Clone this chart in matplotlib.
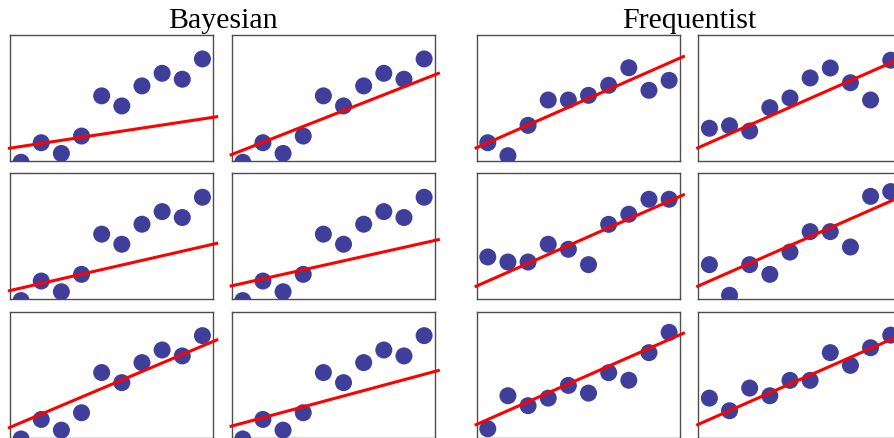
import numpy as np
import matplotlib
matplotlib.use("Agg")
import matplotlib.pyplot as plt

plt.rcParams["font.family"] = ["Liberation Serif", "DejaVu Serif"]

# x positions shared by every panel
x_vals = np.arange(1, 11)

# Bayesian: one fixed data set, six posterior lines (intercept, slope)
bayes_y = [-0.1, 1.45, 0.6, 1.98, 5.17, 4.37, 5.96, 6.96, 6.49, 8.1]
bayes_intercepts = [0.91, 0.23, 0.53, 0.91, 0.52, 0.73]
bayes_slopes = [0.243, 0.628, 0.365, 0.357, 0.676, 0.43]

# Frequentist: one fixed line, six resampled data sets
freq_intercept = 0.74
freq_slope = 0.705
freq_y = [
    [1.45, 0.42, 2.83, 4.84, 4.84, 5.21, 6.01, 7.40, 5.61, 6.40],
    [2.60, 2.80, 2.38, 4.23, 5.00, 6.59, 7.38, 6.21, 4.84, 8.00],
    [3.36, 2.96, 2.96, 4.37, 3.97, 2.75, 5.95, 6.75, 7.94, 7.94],
    [2.75, 0.32, 2.75, 1.98, 3.75, 5.37, 5.37, 4.15, 8.17, 8.55],
    [0.71, 3.33, 2.54, 3.14, 4.15, 3.54, 5.16, 4.56, 6.75, 8.36],
    [3.14, 2.14, 3.94, 3.33, 4.55, 4.55, 6.75, 5.74, 7.14, 8.14],
]

group_titles = ["Bayesian", "Frequentist"]

W, H = 895, 438
fig = plt.figure(figsize=(W / 100, H / 100), dpi=100)

col_left = [10, 231.7, 476.7, 698.3]
row_top = [35, 173.3, 311.7]
ax_w, ax_h = 203.5, 126
XLIM = (0.45, 10.55)
YLIM = (0, 10)
POINT_COLOR = "#3f3f9b"


def panel(left, top, ys, b0, b1):
    ax = fig.add_axes([left / W, (H - top - ax_h) / H, ax_w / W, ax_h / H])
    ax.scatter(x_vals, ys, s=150, color=POINT_COLOR, edgecolors="none", zorder=2)
    xl = np.array([XLIM[0] - 0.1, XLIM[1] + 0.23])
    ax.plot(xl, b0 + b1 * xl, color="#ff0000", lw=2.2, zorder=3, clip_on=False,
            solid_capstyle="butt")
    ax.set_xlim(*XLIM)
    ax.set_ylim(*YLIM)
    ax.set_xticks([])
    ax.set_yticks([])
    for sp in ax.spines.values():
        sp.set_color("#4d4d4d")
        sp.set_linewidth(1.0)
    return ax


k = 0
for r in range(3):
    for c in range(2):
        panel(col_left[c], row_top[r], bayes_y, bayes_intercepts[k], bayes_slopes[k])
        panel(col_left[c + 2], row_top[r], freq_y[k], freq_intercept, freq_slope)
        k += 1

title_centers = [
    (col_left[0] + col_left[1] + ax_w) / 2,
    (col_left[2] + col_left[3] + ax_w) / 2,
]
for cx, t in zip(title_centers, group_titles):
    fig.text(cx / W, (H - 27.5) / H, t, ha="center", va="baseline",
             fontsize=21.5, color="black")

fig.savefig("out.png", dpi=100)
